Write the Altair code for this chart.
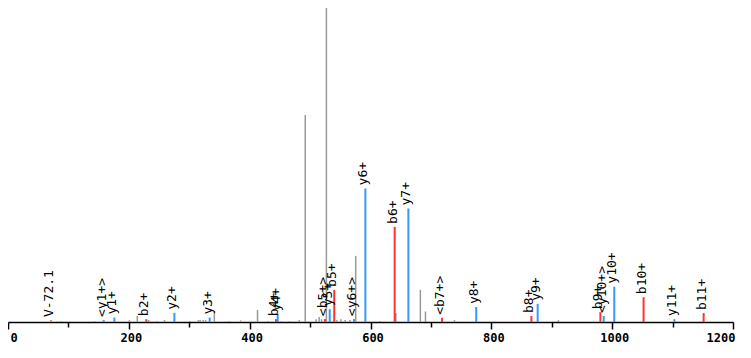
import altair as alt
import pandas as pd

# unannotated (grey) peaks: m/z and relative intensity (% of base peak)
grey_mz = [87, 144, 201, 214, 233, 246, 259, 301, 315, 318, 323, 327, 341.5, 366, 385,
           413, 430, 452, 466, 482, 492, 510, 515, 519, 527, 544, 551, 558, 566, 575.5,
           616, 642, 682.5, 691, 739, 911]
grey_int = [0.3, 0.3, 0.6, 1.9, 0.6, 0.3, 0.6, 0.3, 0.6, 0.6, 0.6, 0.6, 3.5, 0.3, 0.5,
            3.8, 0.3, 0.3, 0.3, 0.6, 65.1, 0.9, 1.6, 0.9, 100, 0.6, 0.9, 0.6, 0.6, 20.8,
            0.3, 2.8, 10.1, 3.3, 0.6, 0.6]

# annotated fragment ions
ion_mz = [71.2, 158.4, 176, 229, 275.4, 333.8, 443.6, 446.4, 524.6, 532.5, 540, 572.7,
          591.5, 640, 662.7, 718.3, 775, 866.3, 876.7, 980.5, 986, 1003.5, 1052, 1103, 1151.4]
ion_int = [0.6, 0.6, 1.4, 0.9, 2.9, 1.4, 0.9, 2.4, 0.9, 4.0, 10.1, 0.9,
           42.0, 29.9, 35.7, 1.3, 4.7, 1.9, 5.7, 3.1, 1.9, 11.1, 7.8, 0.9, 2.8]
ion_kind = ["imm", "y", "y", "b", "y", "y", "b", "y", "b", "y", "b", "y",
            "y", "b", "y", "b", "y", "b", "y", "b", "y", "y", "b", "y", "b"]
ion_label = ["V-72.1", "<y1+>", "y1+", "b2+", "y2+", "y3+", "b4+", "y4+", "<b5+>", "y5+", "b5+", "<y6+>",
             "y6+", "b6+", "y7+", "<b7+>", "y8+", "b8+", "y9+", "b9+", "<y10+>", "y10+", "b10+", "y11+", "b11+"]

kinds = ["imm", "b", "y"]
kind_colors = ["#cc9922", "#ff3333", "#3399ff"]

grey_df = pd.DataFrame({"mz": grey_mz, "intensity": grey_int})
ion_df = pd.DataFrame({"mz": ion_mz, "intensity": ion_int, "kind": ion_kind, "label": ion_label})

xscale = alt.Scale(domain=[0, 1200], nice=False, zero=False)
yscale = alt.Scale(domain=[0, 98.74], nice=False)

xaxis = alt.Axis(
    values=list(range(0, 1300, 100)),
    labelExpr="datum.value % 200 === 0 ? datum.value : ''",
    title=None, grid=False,
    domainColor="black", domainWidth=1.5,
    tickColor="black", tickWidth=1.5,
    tickSize={"condition": {"test": "datum.value % 200 === 0", "value": 7}, "value": 5},
    labelFont="DejaVu Sans Mono", labelFontSize=12, labelFontWeight="bold",
    labelColor="black", labelPadding=3.5, labelOffset=2,
    labelAlign=alt.expr("datum.value === 0 ? 'left' : (datum.value === 1200 ? 'right' : 'center')"),
    labelFlush=False, labelOverlap=False,
)

grey = alt.Chart(grey_df).mark_rule(color="#999999", strokeWidth=1.5).encode(
    x=alt.X("mz:Q", scale=xscale, axis=xaxis),
    y=alt.Y("intensity:Q", scale=yscale, axis=None),
    y2=alt.datum(0),
)

ions = alt.Chart(ion_df).mark_rule(strokeWidth=2).encode(
    x=alt.X("mz:Q", scale=xscale),
    y=alt.Y("intensity:Q", scale=yscale),
    y2=alt.datum(0),
    color=alt.Color("kind:N", scale=alt.Scale(domain=kinds, range=kind_colors), legend=None),
)

labels = alt.Chart(ion_df).mark_text(
    angle=270, align="left", baseline="middle", dx=3, dy=-2,
    font="DejaVu Sans Mono", fontSize=13, color="black",
).encode(
    x=alt.X("mz:Q", scale=xscale),
    y=alt.Y("intensity:Q", scale=yscale),
    text="label:N",
)

chart = alt.layer(grey, ions, labels).properties(
    width=725, height=314,
    autosize="none",
    padding={"left": 0, "top": 0, "right": 9, "bottom": 22},
).configure(background="white").configure_view(stroke=None, strokeWidth=0)

chart.save("out.html", embed_options={"renderer": "svg", "actions": False})
